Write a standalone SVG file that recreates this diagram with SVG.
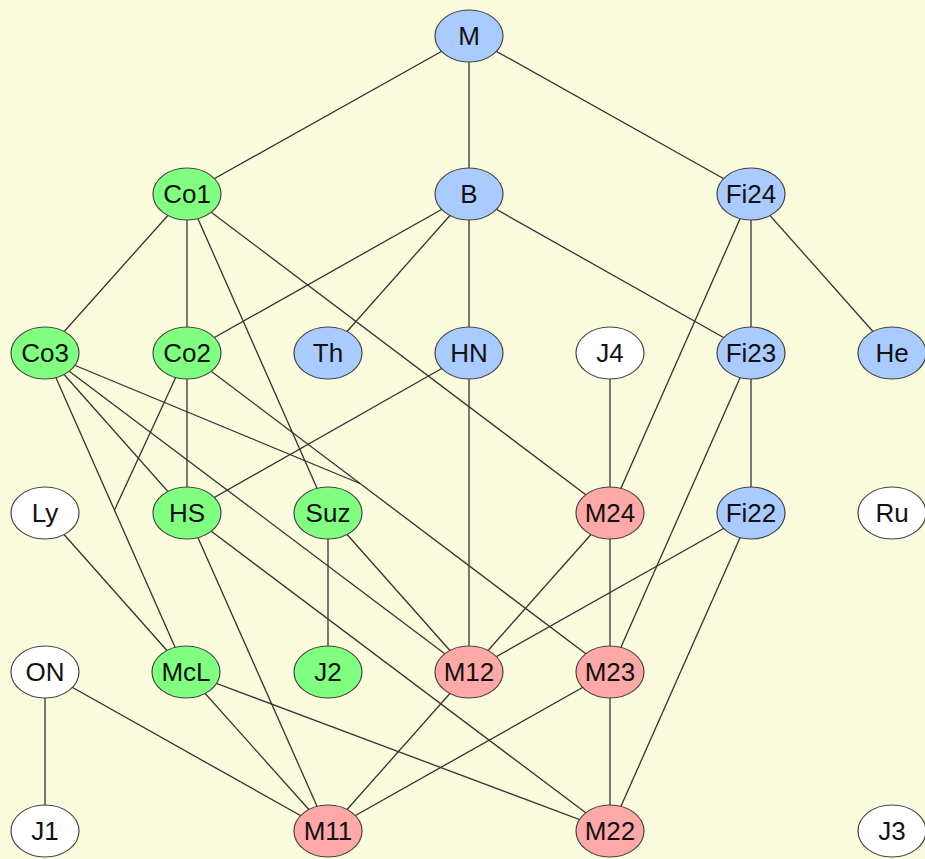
<svg xmlns="http://www.w3.org/2000/svg" width="925" height="859" viewBox="0 0 925 859">
<style>
.e{stroke:#333;stroke-width:1.3;fill:none}
.n ellipse{stroke:#444;stroke-width:1.2}
.b{fill:#A9CBFF}.g{fill:#80FF80}.r{fill:#FFA8A8}.w{fill:#FFFFFF}
.n text{font-family:"Liberation Sans",Arial,sans-serif;font-size:26px;fill:#111;text-anchor:middle}
</style>
<rect width="925" height="859" fill="#FAFADC"/>
<g id="connectors">
<line class="e" x1="469" y1="36" x2="187" y2="194"/>
<line class="e" x1="469" y1="36" x2="469" y2="194"/>
<line class="e" x1="469" y1="36" x2="751" y2="194"/>
<line class="e" x1="187" y1="194" x2="45" y2="353"/>
<line class="e" x1="187" y1="194" x2="187" y2="353"/>
<line class="e" x1="187" y1="194" x2="328" y2="513"/>
<line class="e" x1="187" y1="194" x2="610" y2="513"/>
<line class="e" x1="469" y1="194" x2="187" y2="353"/>
<line class="e" x1="469" y1="194" x2="328" y2="353"/>
<line class="e" x1="469" y1="194" x2="469" y2="353"/>
<line class="e" x1="469" y1="194" x2="751" y2="353"/>
<line class="e" x1="751" y1="194" x2="751" y2="353"/>
<line class="e" x1="751" y1="194" x2="892" y2="353"/>
<line class="e" x1="751" y1="194" x2="610" y2="513"/>
<line class="e" x1="45" y1="353" x2="187" y2="513"/>
<line class="e" x1="45" y1="353" x2="186" y2="672"/>
<line class="e" x1="45" y1="353" x2="469" y2="672"/>
<line class="e" x1="45" y1="353" x2="360" y2="483.5"/>
<line class="e" x1="187" y1="353" x2="187" y2="513"/>
<line class="e" x1="187" y1="353" x2="114.5" y2="510"/>
<line class="e" x1="187" y1="353" x2="610" y2="672"/>
<line class="e" x1="469" y1="353" x2="187" y2="513"/>
<line class="e" x1="469" y1="353" x2="469" y2="672"/>
<line class="e" x1="610" y1="353" x2="610" y2="513"/>
<line class="e" x1="751" y1="353" x2="751" y2="513"/>
<line class="e" x1="751" y1="353" x2="610" y2="672"/>
<line class="e" x1="45" y1="513" x2="186" y2="672"/>
<line class="e" x1="187" y1="513" x2="328" y2="831"/>
<line class="e" x1="187" y1="513" x2="610" y2="831"/>
<line class="e" x1="328" y1="513" x2="328" y2="672"/>
<line class="e" x1="328" y1="513" x2="469" y2="672"/>
<line class="e" x1="610" y1="513" x2="469" y2="672"/>
<line class="e" x1="610" y1="513" x2="610" y2="672"/>
<line class="e" x1="751" y1="513" x2="469" y2="672"/>
<line class="e" x1="751" y1="513" x2="610" y2="831"/>
<line class="e" x1="45" y1="672" x2="45" y2="831"/>
<line class="e" x1="45" y1="672" x2="328" y2="831"/>
<line class="e" x1="186" y1="672" x2="328" y2="831"/>
<line class="e" x1="186" y1="672" x2="610" y2="831"/>
<line class="e" x1="469" y1="672" x2="328" y2="831"/>
<line class="e" x1="610" y1="672" x2="328" y2="831"/>
<line class="e" x1="610" y1="672" x2="610" y2="831"/>
</g>
<g id="M" class="n"><ellipse class="b" cx="469" cy="36" rx="34" ry="26"/><text x="469" y="45">M</text></g>
<g id="Co1" class="n"><ellipse class="g" cx="187" cy="194" rx="34" ry="26"/><text x="187" y="203">Co1</text></g>
<g id="B" class="n"><ellipse class="b" cx="469" cy="194" rx="34" ry="26"/><text x="469" y="203">B</text></g>
<g id="Fi24" class="n"><ellipse class="b" cx="751" cy="194" rx="34" ry="26"/><text x="751" y="203">Fi24</text></g>
<g id="Co3" class="n"><ellipse class="g" cx="45" cy="353" rx="34" ry="26"/><text x="45" y="362">Co3</text></g>
<g id="Co2" class="n"><ellipse class="g" cx="187" cy="353" rx="34" ry="26"/><text x="187" y="362">Co2</text></g>
<g id="Th" class="n"><ellipse class="b" cx="328" cy="353" rx="34" ry="26"/><text x="328" y="362">Th</text></g>
<g id="HN" class="n"><ellipse class="b" cx="469" cy="353" rx="34" ry="26"/><text x="469" y="362">HN</text></g>
<g id="J4" class="n"><ellipse class="w" cx="610" cy="353" rx="34" ry="26"/><text x="610" y="362">J4</text></g>
<g id="Fi23" class="n"><ellipse class="b" cx="751" cy="353" rx="34" ry="26"/><text x="751" y="362">Fi23</text></g>
<g id="He" class="n"><ellipse class="b" cx="892" cy="353" rx="34" ry="26"/><text x="892" y="362">He</text></g>
<g id="Ly" class="n"><ellipse class="w" cx="45" cy="513" rx="34" ry="26"/><text x="45" y="522">Ly</text></g>
<g id="HS" class="n"><ellipse class="g" cx="187" cy="513" rx="34" ry="26"/><text x="187" y="522">HS</text></g>
<g id="Suz" class="n"><ellipse class="g" cx="328" cy="513" rx="34" ry="26"/><text x="328" y="522">Suz</text></g>
<g id="M24" class="n"><ellipse class="r" cx="610" cy="513" rx="34" ry="26"/><text x="610" y="522">M24</text></g>
<g id="Fi22" class="n"><ellipse class="b" cx="751" cy="513" rx="34" ry="26"/><text x="751" y="522">Fi22</text></g>
<g id="Ru" class="n"><ellipse class="w" cx="892" cy="513" rx="34" ry="26"/><text x="892" y="522">Ru</text></g>
<g id="ON" class="n"><ellipse class="w" cx="45" cy="672" rx="34" ry="26"/><text x="45" y="681">ON</text></g>
<g id="McL" class="n"><ellipse class="g" cx="186" cy="672" rx="34" ry="26"/><text x="186" y="681">McL</text></g>
<g id="J2" class="n"><ellipse class="g" cx="328" cy="672" rx="34" ry="26"/><text x="328" y="681">J2</text></g>
<g id="M12" class="n"><ellipse class="r" cx="469" cy="672" rx="34" ry="26"/><text x="469" y="681">M12</text></g>
<g id="M23" class="n"><ellipse class="r" cx="610" cy="672" rx="34" ry="26"/><text x="610" y="681">M23</text></g>
<g id="J1" class="n"><ellipse class="w" cx="45" cy="831" rx="34" ry="26"/><text x="45" y="840">J1</text></g>
<g id="M11" class="n"><ellipse class="r" cx="328" cy="831" rx="34" ry="26"/><text x="328" y="840">M11</text></g>
<g id="M22" class="n"><ellipse class="r" cx="610" cy="831" rx="34" ry="26"/><text x="610" y="840">M22</text></g>
<g id="J3" class="n"><ellipse class="w" cx="892" cy="831" rx="34" ry="26"/><text x="892" y="840">J3</text></g>
</svg>
